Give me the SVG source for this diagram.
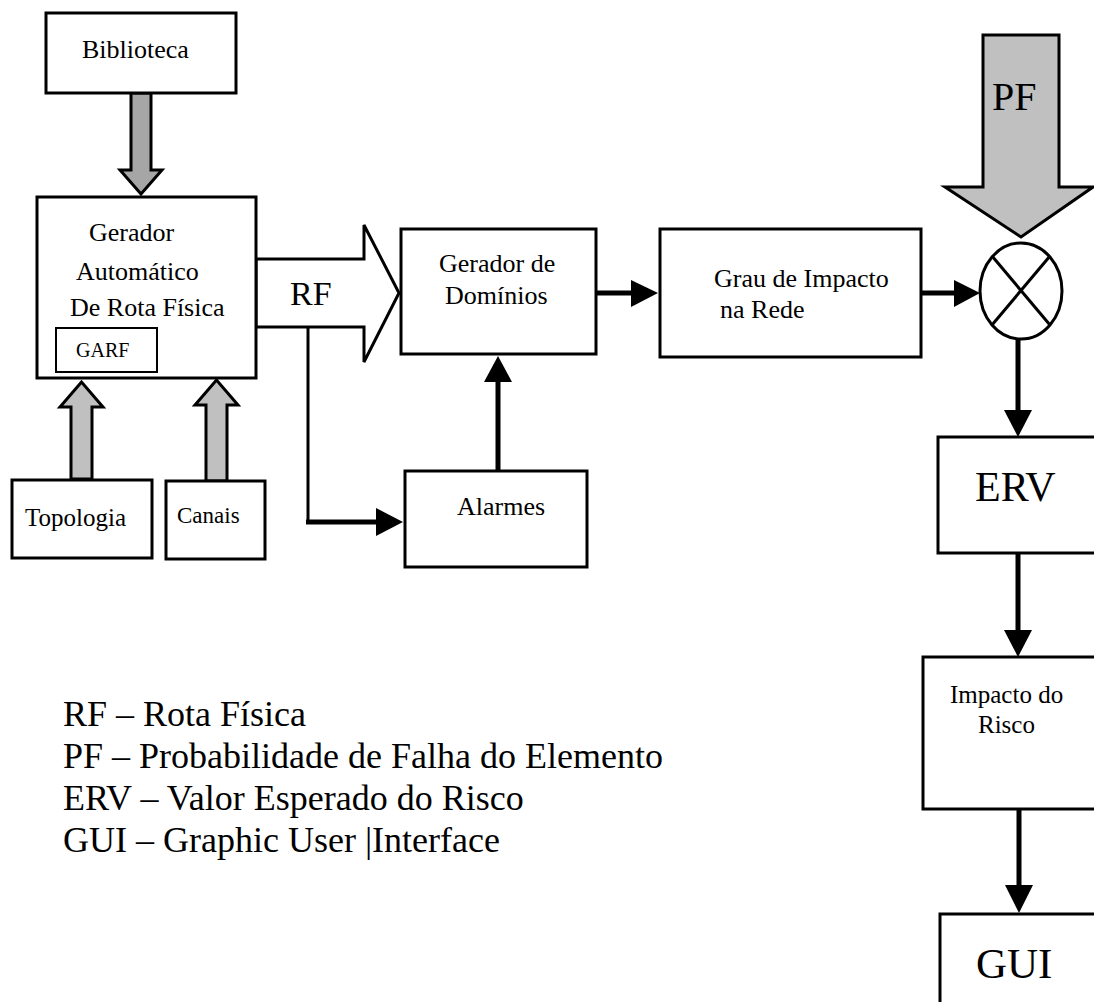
<svg xmlns="http://www.w3.org/2000/svg" width="1094" height="1002" viewBox="0 0 1094 1002" font-family="'Liberation Serif', serif">
  <style>
    text { font-family: 'Liberation Serif', serif; fill: #000; }
    .box { fill: #fff; stroke: #000; stroke-width: 3; }
    .t26 { font-size: 26px; }
    .block { stroke: #000; stroke-width: 3; stroke-linejoin: miter; }
    .wire { fill: none; stroke: #000; stroke-width: 5; }
    .thin { fill: none; stroke: #000; stroke-width: 3; }
    .head { fill: #000; stroke: none; }
  </style>

  <rect width="1094" height="1002" fill="#fff"/>

  <!-- block arrows (inputs) -->
  <g id="block-arrows">
    <polygon class="block" fill="#a6a6a6" points="131,93 151,93 151,170 162,170 141,194 120,170 131,170"/>
    <polygon class="block" fill="#c0c0c0" points="71,479 92,479 92,407 103,407 81.5,382 60,407 71,407"/>
    <polygon class="block" fill="#c0c0c0" points="206,481 227,481 227,405 238,405 216.5,380 195,405 206,405"/>
    <polygon class="block" fill="#c0c0c0" points="983,35 1059,35 1059,187 1093,187 1021,237 945,187 983,187"/>
    <polygon class="block" fill="#fff" points="256,259 364,259 364,225 399,293 364,362 364,327 256,327"/>
  </g>

  <!-- nodes -->
  <g id="biblioteca">
    <rect class="box" x="46" y="13" width="190" height="80"/>
    <text class="t26" x="82" y="58">Biblioteca</text>
  </g>

  <g id="garf-gerador">
    <rect class="box" x="37" y="197" width="219" height="181"/>
    <text class="t26" x="89" y="241">Gerador</text>
    <text class="t26" x="76" y="280">Automático</text>
    <text class="t26" x="70" y="316">De Rota Física</text>
    <rect fill="#fff" stroke="#000" stroke-width="2" x="56" y="328" width="101" height="44"/>
    <text x="76" y="357" font-size="20">GARF</text>
  </g>

  <g id="topologia">
    <rect class="box" x="12" y="480" width="140" height="78"/>
    <text x="25" y="526" font-size="25">Topologia</text>
  </g>

  <g id="canais">
    <rect class="box" x="166" y="481" width="99" height="78"/>
    <text x="177" y="523" font-size="23">Canais</text>
  </g>

  <g id="rf-label">
    <text x="290" y="305" font-size="34">RF</text>
  </g>

  <g id="gerador-dominios">
    <rect class="box" x="401" y="229" width="195" height="125"/>
    <text class="t26" x="439" y="272">Gerador de</text>
    <text class="t26" x="445" y="304">Domínios</text>
  </g>

  <g id="alarmes">
    <rect class="box" x="405" y="471" width="182" height="96"/>
    <text class="t26" x="457" y="515">Alarmes</text>
  </g>

  <g id="grau-impacto">
    <rect class="box" x="660" y="229" width="261" height="128"/>
    <text class="t26" x="714" y="287">Grau de Impacto</text>
    <text class="t26" x="720" y="318">na Rede</text>
  </g>

  <g id="multiplicador">
    <ellipse fill="#fff" stroke="#000" stroke-width="3" cx="1021" cy="291" rx="41" ry="48"/>
    <line class="thin" x1="992" y1="256" x2="1050" y2="325"/>
    <line class="thin" x1="1050" y1="256" x2="992" y2="325"/>
    <text x="992" y="110" font-size="40">PF</text>
  </g>

  <g id="erv">
    <rect class="box" x="938" y="437" width="170" height="116"/>
    <text x="975" y="501" font-size="42">ERV</text>
  </g>

  <g id="impacto-risco">
    <rect class="box" x="923" y="657" width="185" height="152"/>
    <text x="950" y="703" font-size="25">Impacto do</text>
    <text x="978" y="733" font-size="25">Risco</text>
  </g>

  <g id="gui">
    <rect class="box" x="940" y="914" width="170" height="100"/>
    <text x="976" y="978" font-size="43">GUI</text>
  </g>

  <!-- connectors -->
  <g id="connectors">
    <!-- RF branch to Alarmes -->
    <polyline class="thin" points="308,327 308,522"/>
    <line class="wire" x1="306" y1="522" x2="380" y2="522"/>
    <polygon class="head" points="376,508 403,522 376,536"/>
    <!-- Alarmes up to Gerador de Domínios -->
    <line class="wire" x1="498" y1="472" x2="498" y2="378"/>
    <polygon class="head" points="484,382 498,356 512,382"/>
    <!-- Gerador de Domínios to Grau de Impacto -->
    <line class="wire" x1="596" y1="293" x2="634" y2="293"/>
    <polygon class="head" points="631,280 658,293 631,307"/>
    <!-- Grau de Impacto to multiplier -->
    <line class="wire" x1="921" y1="293" x2="957" y2="293"/>
    <polygon class="head" points="954,280 980,293 954,307"/>
    <!-- multiplier down to ERV -->
    <line class="wire" x1="1018" y1="339" x2="1018" y2="413"/>
    <polygon class="head" points="1004,410 1032,410 1018,437"/>
    <!-- ERV down to Impacto do Risco -->
    <line class="wire" x1="1018" y1="553" x2="1018" y2="633"/>
    <polygon class="head" points="1004,630 1032,630 1018,657"/>
    <!-- Impacto do Risco down to GUI -->
    <line class="wire" x1="1019" y1="809" x2="1019" y2="888"/>
    <polygon class="head" points="1005,885 1033,885 1019,913"/>
  </g>

  <!-- legend -->
  <g id="legenda" font-size="36">
    <text x="63" y="726">RF – Rota Física</text>
    <text x="63" y="768">PF – Probabilidade de Falha do Elemento</text>
    <text x="63" y="810">ERV – Valor Esperado do Risco</text>
    <text x="63" y="852">GUI – Graphic User |Interface</text>
  </g>
</svg>
